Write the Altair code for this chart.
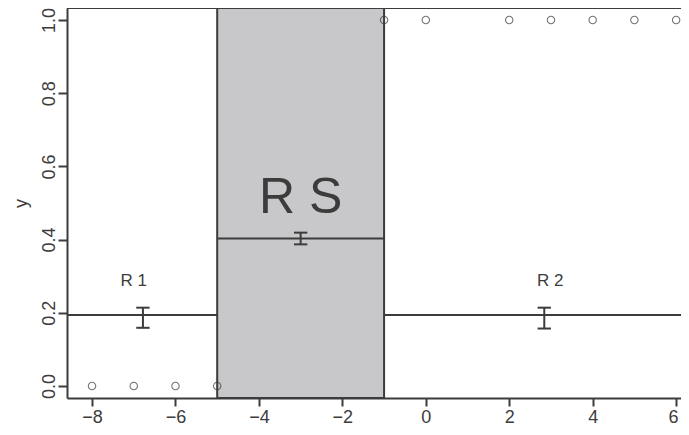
import altair as alt
import pandas as pd

# ---- data ----
low_x = [-8, -7, -6, -5]
low_y = [0, 0, 0, 0]
high_x = [-1, 0, 2, 3, 4, 5, 6]
high_y = [1, 1, 1, 1, 1, 1, 1]

seg_x = [-8.6, -5, -1]
seg_x2 = [-5, -1, 6.12]
seg_y = [0.194, 0.403, 0.194]

err_x = [-6.78, -3.0, 2.84]
err_lo = [0.159, 0.387, 0.157]
err_hi = [0.214, 0.419, 0.214]

lab_text = ["R 1", "R S", "R 2"]
lab_x = [-7.0, -3.0, 2.98]
lab_y = [0.287, 0.514, 0.287]
lab_size = [17, 50, 17]

band_x = [-5]
band_x2 = [-1]

x_ticks = [-8, -6, -4, -2, 0, 2, 4, 6]
y_ticks = [0.0, 0.2, 0.4, 0.6, 0.8, 1.0]

XDOM = [-8.6, 6.117]
YDOM = [-0.0328, 1.0328]
W, H = 614, 390
DARK = "#3c3c3c"
FONT = "Liberation Sans"

pts = pd.DataFrame({"x": low_x + high_x, "y": low_y + high_y})
segs = pd.DataFrame({"x": seg_x, "x2": seg_x2, "y": seg_y})
errs = pd.DataFrame({"x": err_x, "lo": err_lo, "hi": err_hi})
caps = pd.DataFrame({
    "xa": [v - 0.16 for v in err_x] * 2,
    "xb": [v + 0.16 for v in err_x] * 2,
    "y": err_lo + err_hi,
})
labs = pd.DataFrame({"x": lab_x, "y": lab_y, "t": lab_text, "s": lab_size})
band = pd.DataFrame({"x": band_x, "x2": band_x2})

xs = alt.Scale(domain=XDOM, nice=False, zero=False)
ys = alt.Scale(domain=YDOM, nice=False, zero=False)

xax = alt.Axis(values=x_ticks, grid=False, labelFontSize=18, labelFont=FONT,
               labelColor=DARK, domainColor=DARK, domainWidth=2, tickColor=DARK,
               tickWidth=2, tickSize=8, labelPadding=2,
               labelOffset={"condition": {"test": "datum.value == 6", "value": -3}, "value": 0},
               title=None, labelFlush=False)
yax = alt.Axis(values=y_ticks, grid=False, labelFontSize=18, labelFont=FONT,
               labelColor=DARK, domainColor=DARK, domainWidth=2, tickColor=DARK,
               tickWidth=2, tickSize=9, labelAngle=-90, labelAlign="center",
               labelBaseline="bottom", labelPadding=0, format=".1f",
               title="y", titleFont=FONT, titleFontSize=18, titleFontWeight="normal",
               titleColor=DARK, titlePadding=10, labelFlush=False)

base_rect = alt.Chart(band).mark_rect(fill="#c8c8ca", stroke=DARK, strokeWidth=2).encode(
    x=alt.X("x:Q", scale=xs, axis=xax),
    x2="x2:Q",
    y=alt.value(0),
    y2=alt.value(H),
)

seg_layer = alt.Chart(segs).mark_rule(color=DARK, strokeWidth=2).encode(
    x=alt.X("x:Q", scale=xs), x2="x2:Q",
    y=alt.Y("y:Q", scale=ys, axis=yax),
)

err_layer = alt.Chart(errs).mark_rule(color=DARK, strokeWidth=2).encode(
    x=alt.X("x:Q", scale=xs), y=alt.Y("lo:Q", scale=ys), y2="hi:Q",
)

cap_layer = alt.Chart(caps).mark_rule(color=DARK, strokeWidth=2).encode(
    x=alt.X("xa:Q", scale=xs), x2="xb:Q", y=alt.Y("y:Q", scale=ys),
)

lab_layer = alt.Chart(labs).mark_text(font=FONT, color=DARK, baseline="middle").encode(
    x=alt.X("x:Q", scale=xs), y=alt.Y("y:Q", scale=ys), text="t:N",
    size=alt.Size("s:Q", scale=None, legend=None),
)

pt_layer = alt.Chart(pts).mark_point(shape="circle", filled=False, color="#3a3a3a",
                                      size=55, strokeWidth=1.1).encode(
    x=alt.X("x:Q", scale=xs), y=alt.Y("y:Q", scale=ys),
)

top_frame = alt.Chart(band).mark_rule(color=DARK, strokeWidth=2).encode(
    x=alt.value(0), x2=alt.value(W), y=alt.value(0),
)

chart = alt.layer(base_rect, seg_layer, err_layer, cap_layer, lab_layer, pt_layer, top_frame).properties(
    width=W, height=H,
    autosize=alt.AutoSizeParams(type="none"),
    padding={"left": 59, "top": 0, "right": 0, "bottom": 29},
).configure_view(stroke=None).configure(background="white")

chart.save("out.html", embed_options={"renderer": "svg", "actions": False})
